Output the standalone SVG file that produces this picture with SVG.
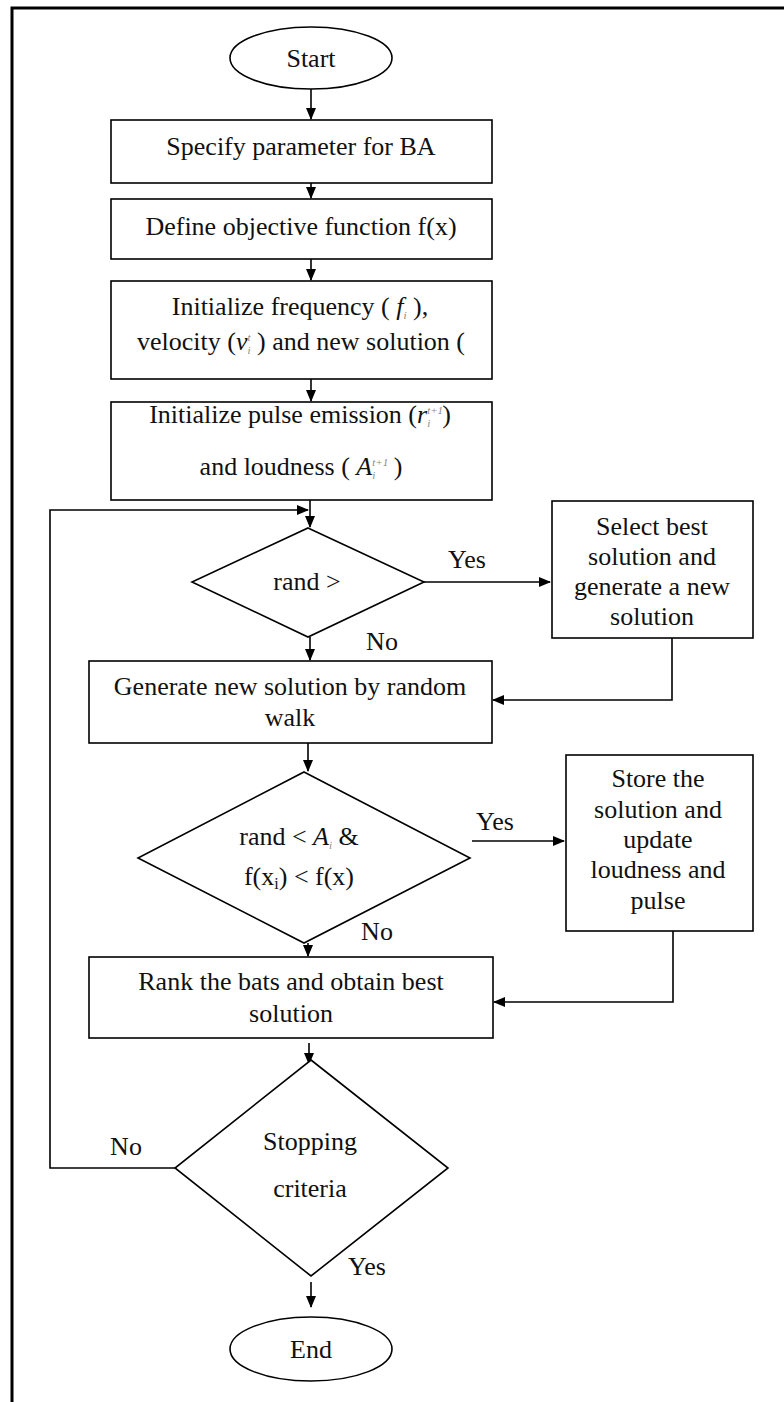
<svg xmlns="http://www.w3.org/2000/svg" width="784" height="1402" viewBox="0 0 784 1402">
<style>
.s{fill:#fff;stroke:#000;stroke-width:1.6}
.t{font-family:"Liberation Serif","Times New Roman",serif;font-size:26px;fill:#111;text-anchor:middle}
.l{font-family:"Liberation Serif","Times New Roman",serif;font-size:26px;fill:#111;text-anchor:middle}
.c{fill:none;stroke:#000;stroke-width:1.6}
.i{font-style:italic}
.m{font-size:11px;fill:#888;font-style:italic}
</style>
<defs>
<marker id="ah" markerWidth="12" markerHeight="10" refX="11" refY="5" orient="auto" markerUnits="userSpaceOnUse">
<path d="M0,0 L12,5 L0,10 z" fill="#000"/>
</marker>
</defs>
<rect x="0" y="0" width="784" height="1402" fill="#fff"/>
<path d="M784,8 H12 V1402" fill="none" stroke="#000" stroke-width="3"/>

<g id="connectors">
<path class="c" d="M311,89 V119" marker-end="url(#ah)"/>
<path class="c" d="M311,183 V198" marker-end="url(#ah)"/>
<path class="c" d="M311,259 V280" marker-end="url(#ah)"/>
<path class="c" d="M311,379 V401" marker-end="url(#ah)"/>
<path class="c" d="M310,500 V527" marker-end="url(#ah)"/>
<path class="c" d="M175,1168 H50 V510 H308" marker-end="url(#ah)"/>
<path class="c" d="M424,582 H550" marker-end="url(#ah)"/>
<path class="c" d="M310,637 V660" marker-end="url(#ah)"/>
<path class="c" d="M672,638 V700 H493" marker-end="url(#ah)"/>
<path class="c" d="M308,743 V771" marker-end="url(#ah)"/>
<path class="c" d="M472,841 H564" marker-end="url(#ah)"/>
<path class="c" d="M308,943 V956" marker-end="url(#ah)"/>
<path class="c" d="M673,931 V1002 H494" marker-end="url(#ah)"/>
<path class="c" d="M309,1043 V1064" marker-end="url(#ah)"/>
<path class="c" d="M311,1282 V1307" marker-end="url(#ah)"/>
<text class="l" x="467" y="568">Yes</text>
<text class="l" x="382" y="650">No</text>
<text class="l" x="495" y="830">Yes</text>
<text class="l" x="377" y="940">No</text>
<text class="l" x="126" y="1155">No</text>
<text class="l" x="367" y="1275">Yes</text>
</g>

<g id="start">
<ellipse class="s" cx="311" cy="58" rx="81" ry="31"/>
<text class="t" x="311" y="67">Start</text>
</g>

<g id="specify">
<rect class="s" x="111" y="120" width="381" height="63"/>
<text class="t" x="301" y="155">Specify parameter for BA</text>
</g>

<g id="define">
<rect class="s" x="111" y="199" width="381" height="60"/>
<text class="t" x="301" y="235">Define objective function f(x)</text>
</g>

<g id="init-freq">
<rect class="s" x="111" y="281" width="381" height="98"/>
<text class="t" x="300" y="315">Initialize frequency ( <tspan class="i">f</tspan><tspan class="m" dy="4">i</tspan><tspan dy="-4"> ),</tspan></text>
<text class="t" x="301" y="350">velocity (<tspan class="i">v</tspan><tspan class="m" dy="-9">t</tspan><tspan class="m" dx="-3" dy="13">i</tspan><tspan dy="-4">  ) and new solution (</tspan></text>
</g>

<g id="init-pulse">
<rect class="s" x="111" y="402" width="381" height="98"/>
<text class="t" x="300" y="423">Initialize pulse emission (<tspan class="i">r</tspan><tspan class="m" dy="-9">t+1</tspan><tspan class="m" dx="-16" dy="13">i</tspan><tspan dx="12" dy="-4">)</tspan></text>
<text class="t" x="301" y="475">and loudness ( <tspan class="i">A</tspan><tspan class="m" dy="-9">t+1</tspan><tspan class="m" dx="-16" dy="13">i</tspan><tspan dx="12" dy="-4"> )</tspan></text>
</g>

<g id="decision-pulse">
<polygon class="s" points="308,528 424,582 308,637 192,582"/>
<text class="t" x="307" y="590">rand &gt;</text>
</g>

<g id="select-best">
<rect class="s" x="552" y="501" width="201" height="137"/>
<text class="t" x="652" y="535">Select best</text>
<text class="t" x="652" y="565">solution and</text>
<text class="t" x="652" y="595">generate a new</text>
<text class="t" x="652" y="625">solution</text>
</g>

<g id="random-walk">
<rect class="s" x="89" y="661" width="403" height="82"/>
<text class="t" x="290" y="695">Generate new solution by random</text>
<text class="t" x="290" y="726">walk</text>
</g>

<g id="decision-loudness">
<polygon class="s" points="304,772 470,858 304,943 138,858"/>
<text class="t" x="299" y="845">rand &lt; <tspan class="i">A</tspan><tspan class="m" dy="4">i</tspan><tspan dy="-4"> &amp;</tspan></text>
<text class="t" x="299" y="885">f(x<tspan font-size="16" dy="4">i</tspan><tspan dy="-4">) &lt; f(x)</tspan></text>
</g>

<g id="store">
<rect class="s" x="566" y="755" width="187" height="176"/>
<text class="t" x="658" y="787">Store the</text>
<text class="t" x="658" y="818">solution and</text>
<text class="t" x="658" y="848">update</text>
<text class="t" x="658" y="878">loudness and</text>
<text class="t" x="658" y="909">pulse</text>
</g>

<g id="rank">
<rect class="s" x="89" y="957" width="404" height="81"/>
<text class="t" x="291" y="990">Rank the bats and obtain best</text>
<text class="t" x="291" y="1022">solution</text>
</g>

<g id="decision-stop">
<polygon class="s" points="311,1060 448,1168 311,1276 175,1168"/>
<text class="t" x="310" y="1150">Stopping</text>
<text class="t" x="310" y="1197">criteria</text>
</g>

<g id="end">
<ellipse class="s" cx="311" cy="1349" rx="81" ry="32"/>
<text class="t" x="311" y="1358">End</text>
</g>
</svg>
